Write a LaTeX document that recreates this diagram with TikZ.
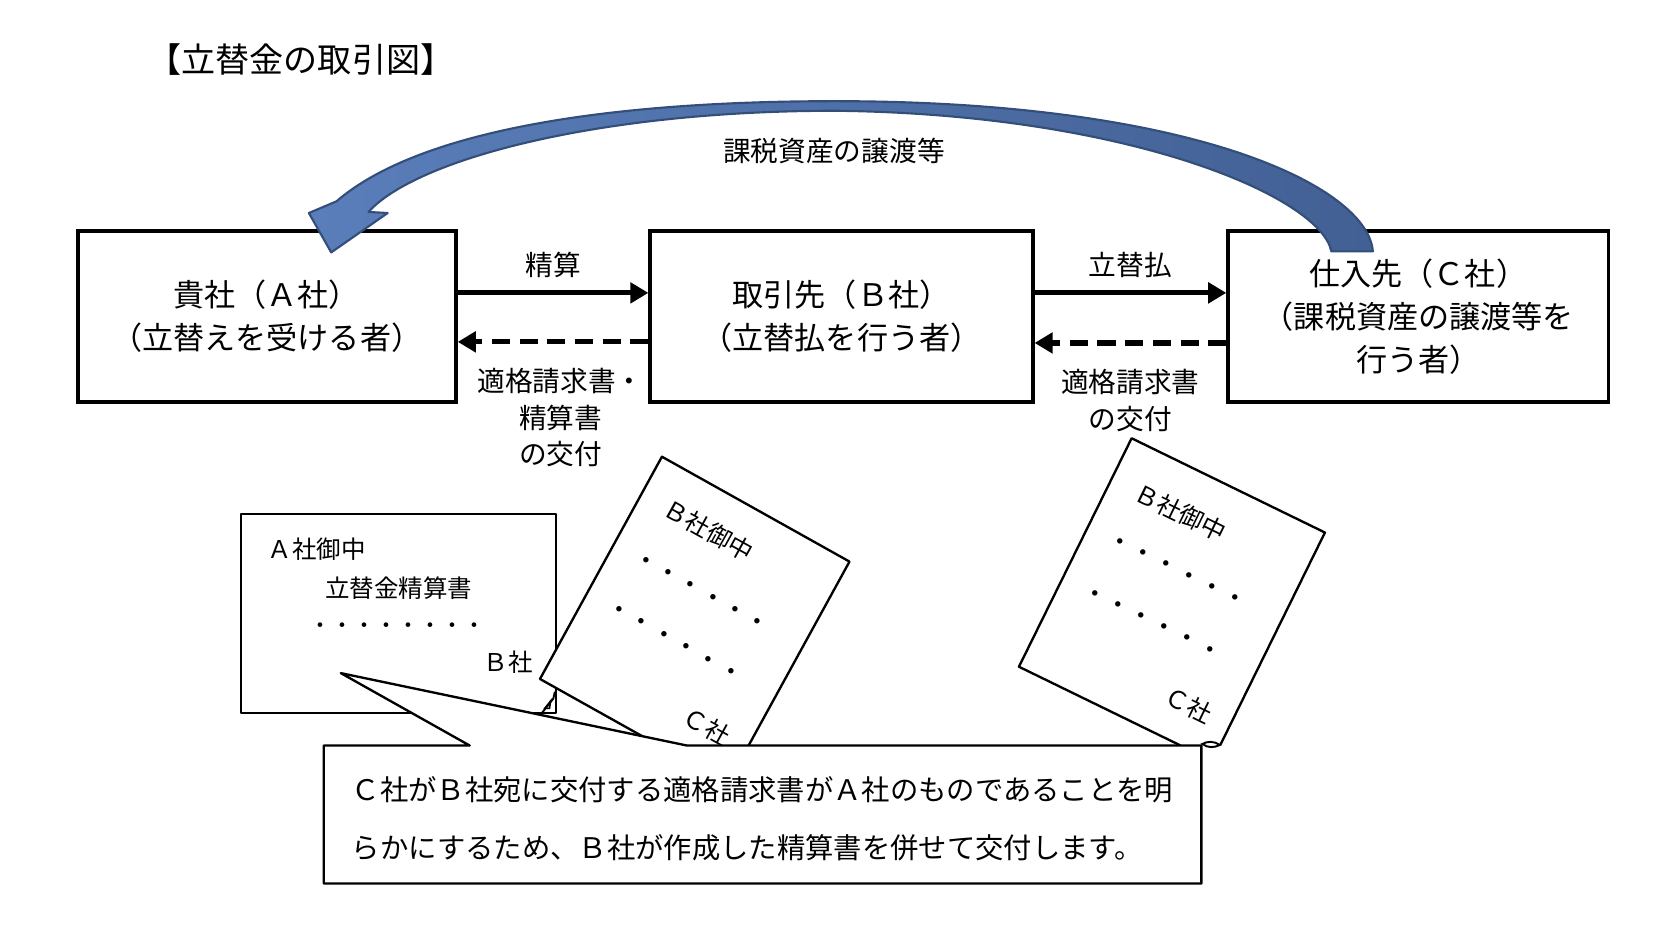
\documentclass[tikz,border=0pt]{standalone}
\usepackage{fontspec}
\setmainfont{Noto Sans CJK JP}
\usepackage{tikz}
\usetikzlibrary{arrows.meta,positioning}

\definecolor{arcblue}{RGB}{66,96,148}
\definecolor{arclite}{RGB}{90,126,186}
\definecolor{arcedge}{RGB}{52,78,122}

\begin{document}
\begin{tikzpicture}[
  x=0.5pt, y=-0.5pt,
  >=Stealth,
  every node/.style={inner sep=2pt},
  box/.style={draw, line width=1.8pt, minimum width=177.5pt, minimum height=80.5pt, align=center, font=\fontsize{14.6}{20.2}\selectfont},
  lbl/.style={align=center, font=\fontsize{13}{17.3}\selectfont},
  flow/.style={line width=2.4pt, -{Triangle[length=8.5pt,width=9.5pt]}},
  back/.style={line width=2.4pt, dash pattern=on 8.5pt off 4.5pt, -{Triangle[length=8.5pt,width=9.5pt]}},
  sheet/.style={draw, line width=1.1pt, fill=white, line join=round},
  memo/.style={font=\fontsize{11.5}{14}\selectfont},
  dots/.style={font=\fontsize{12}{12}\selectfont, inner sep=0pt},
  node distance=89.5pt
]
\useasboundingbox (0,0) rectangle (1568,883);

% title
\node[font=\fontsize{16}{18}\selectfont] (title) at (282.5,56) {【立替金の取引図】};

% the three parties
\node[box] (ka) at (250.5,297) {貴社（Ａ社）\\（立替えを受ける者）};
\node[box, minimum width=179.5pt, right=of ka] (tb) {取引先（Ｂ社）\\（立替払を行う者）};
\node[box, minimum width=178.5pt, right=90pt of tb] (sc) {仕入先（Ｃ社）\\（課税資産の譲渡等を\\行う者）};

% payments and documents between them
\draw[flow] ([yshift=11pt]ka.east) -- node[lbl, above=4pt] (l1) {精算} ([yshift=11pt]tb.west);
\draw[back] ([yshift=-12pt]tb.west) -- node[lbl, below=9pt, xshift=3.5pt] (l2) {適格請求書・\\精算書\\の交付} ([yshift=-12pt]ka.east);
\draw[flow] ([yshift=11pt]tb.east) -- node[lbl, above=4pt] (l3) {立替払} ([yshift=11pt]sc.west);
\draw[back] ([yshift=-12.5pt]sc.west) -- node[lbl, below=9pt] (l4) {適格請求書\\の交付} ([yshift=-12.5pt]tb.east);

% big curved arrow C -> A
\path[draw=arcedge, line width=1pt, line join=round, left color=arclite, right color=arcblue]
  (1289,236) .. controls (1284,175) and (1120,95) .. (784,95)
  .. controls (560,95) and (390,125) .. (316,189)
  -- (290,200) -- (311,237) -- (364,200) -- (346,199)
  .. controls (390,150) and (560,104) .. (784,104)
  .. controls (1060,107) and (1240,185) .. (1250,236) -- cycle;
\node[lbl] (lk) at (783,142) {課税資産の譲渡等};

% settlement sheet from B
\draw[sheet] (226.5,482.5) rectangle (522,669.5);
\node[memo] (d1a) at (297.6,515.5) {Ａ社御中};
\node[memo] (d1b) at (374.3,552.4) {立替金精算書};
\node[font=\fontsize{10.3}{12}\selectfont, inner sep=0pt] (d1c) at (373.3,590) {・・・・・・・・};
\node[memo] (d1d) at (477,622) {Ｂ社};

% invoice C -> B (left)
\draw[sheet] (621.5,428.8) -- (797.6,527.3) -- (683.1,736) -- (507,637.5) -- cycle;
\node[memo, rotate=-29] (d2a) at (665.6,497.6) {Ｂ社御中};
\node[dots, rotate=-29] (d2b) at (657.5,557.5) {・・・・・・};
\node[dots, rotate=-29] (d2c) at (632.3,604) {・・・・・・};
\node[memo, rotate=-29] (d2d) at (663.5,682) {Ｃ社};

% invoice C -> B (right)
\fill[white] (1108.5,700) -- (956.7,626) -- (1062.5,411.5) -- (1244,500) -- (1145.5,700) -- cycle;
\draw[line width=1.1pt, line join=round] (1108.5,700) -- (956.7,626) -- (1062.5,411.5) -- (1244,500) -- (1145.5,700);
\node[memo, rotate=-26] (d3a) at (1108.5,481.3) {Ｂ社御中};
\node[dots, rotate=-26] (d3b) at (1104.5,537.5) {・・・・・・};
\node[dots, rotate=-26] (d3c) at (1081.1,586) {・・・・・・};
\node[memo, rotate=-26] (d3d) at (1115.7,662) {Ｃ社};

% speech callout
\draw[sheet] (304,700) -- (441,700) -- (320,632) -- (645,700) -- (1128,700) -- (1128,829.5) -- (304,829.5) -- cycle;
\node[anchor=west, align=left, inner sep=0pt, font=\fontsize{13.3}{27.2}\selectfont] (note) at (330,769)
  {Ｃ社がＢ社宛に交付する適格請求書がＡ社のものであることを明\\らかにするため、Ｂ社が作成した精算書を併せて交付します。};

% curled corners
\draw[line width=0.9pt, line join=round] (521,649.4) -- (519.5,656) -- (508.6,669.7);
\draw[line width=0.7pt] (511.5,665) -- (517,658) -- (516,665) -- cycle;
\draw[line width=0.9pt] (1145.5,699.5) .. controls (1140,695.5) and (1133,696) .. (1129,698.5)
  .. controls (1134,702.5) and (1140,702) .. (1145.5,699.5);

\end{tikzpicture}
\end{document}
